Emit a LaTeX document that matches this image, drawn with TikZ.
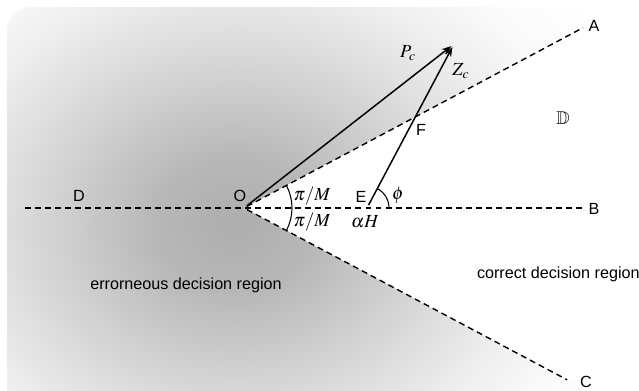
\documentclass[tikz,border=0pt]{standalone}
\usepackage{mathptmx}
\usepackage{amssymb}
\usepackage{fontspec}
\setsansfont{Liberation Sans}
\usetikzlibrary{arrows.meta,calc}
\pgfdeclareradialshading{errshade}{\pgfpoint{0bp}{0bp}}{color(0bp)=(black!32); color(3.5bp)=(black!28); color(8.5bp)=(black!16); color(12.5bp)=(black!7); color(15.5bp)=(black!2); color(19bp)=(white); color(50bp)=(white)}

\begin{document}
\begin{tikzpicture}[
    x=0.02cm,y=0.02cm,>={Stealth[length=5.5pt,width=4pt]},
    dot/.style={circle,fill,inner sep=0pt,minimum size=3.4pt},
    lbl/.style={inner sep=0pt,font=\sffamily\fontsize{9.2}{11}\selectfont},
    mlbl/.style={inner sep=0pt,font=\fontsize{10.5}{12}\selectfont},
    bound/.style={line width=0.8pt,dash pattern=on 3.4pt off 2.3pt},
    vec/.style={->,line width=0.85pt},
    ang/.style={line width=0.6pt}
]
\useasboundingbox (0,0) rectangle (639,390);
\clip (0,0) rectangle (639,390);

\node[dot] (O) at (244,182) {};
\node[dot] (E) at (367,182) {};
\node[dot] (Z) at (454,346) {};
\coordinate (Dend) at (25,182);
\coordinate (Bend) at (583,182);
\coordinate (Aend) at ($(O)+(28:384)$);
\coordinate (Cend) at ($(O)+(-28:366)$);
\node[dot] (F) at (intersection of O--Aend and E--Z) {};

\begin{scope}
\clip[rounded corners=14pt] (7,-20) rectangle (600,383);
\shade[shading=errshade] (-345,-315) rectangle (815,645);
\end{scope}
\fill[white] (O.center) -- ($(O)+(28:700)$) -- ($(O)+(-28:700)$) -- cycle;

\draw[bound] (Dend) -- (Bend);
\draw[bound] (O) -- (Aend);
\draw[bound] (O) -- (Cend);
\draw[vec] (O) -- (Z);
\draw[vec] (E) -- (Z);

\draw[ang] ($(O)+(48,0)$) arc[start angle=0,end angle=28,radius=48];
\draw[ang] ($(O)+(48,0)$) arc[start angle=0,end angle=-28,radius=48];
\draw[ang] ($(E)+(22,0)$) arc[start angle=0,end angle=62,radius=22];

\node[lbl] (labD) at (79,194) {D};
\node[lbl] (labO) at (240,194) {O};
\node[lbl] (labE) at (361,193) {E};
\node[lbl] (labB) at (594,181) {B};
\node[lbl] (labA) at (594,364) {A};
\node[lbl] (labC) at (586,8) {C};
\node[lbl] (labF) at (421,260) {F};
\node[mlbl] (labP) at (408,337) {$P_c$};
\node[mlbl] (labZ) at (461,319) {$Z_c$};
\node[mlbl] (dom) at (563,272) {$\mathbb{D}$};
\node[mlbl] (angup) at (312,194) {$\pi/M$};
\node[mlbl] (angdn) at (312,168) {$\pi/M$};
\node[mlbl] (alH) at (365,168) {$\alpha H$};
\node[mlbl] (phi) at (398,195) {$\phi$};
\node[lbl] (errreg) at (186,105) {errorneous decision region};
\node[lbl,anchor=east] (correg) at (640,116) {correct decision region};
\end{tikzpicture}
\end{document}
